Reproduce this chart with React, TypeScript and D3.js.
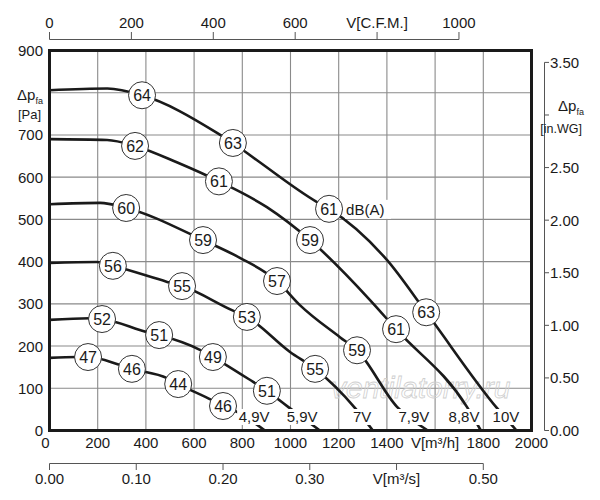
import React from 'react';
import * as d3 from 'd3';

// fan curves, flow in m³/h, static pressure in Pa
const flow49 = [0, 114, 160, 293, 342, 488, 534, 674, 720, 778, 894];
const pres49 = [172, 174, 174, 155, 146, 124, 110, 72, 58, 44, 0];
const flow59 = [0, 168, 218, 405, 455, 624, 678, 845, 902, 990, 1122];
const pres59 = [262, 266, 264, 233, 226, 191, 174, 115, 94, 56, 0];
const flow70 = [0, 197, 263, 488, 550, 757, 819, 998, 1102, 1268, 1342];
const pres70 = [397, 399, 390, 352, 342, 285, 269, 186, 146, 53, 0];
const flow79 = [0, 210, 318, 637, 790, 944, 1039, 1205, 1276, 1442, 1570];
const pres79 = [536, 539, 527, 451, 409, 354, 297, 221, 190, 56, 0];
const flow88 = [0, 239, 355, 533, 703, 902, 1081, 1330, 1438, 1732, 1790];
const pres88 = [690, 688, 674, 634, 590, 529, 451, 309, 240, 56, 0];
const flow100 = [0, 240, 384, 695, 761, 861, 1110, 1160, 1400, 1563, 1857, 1938];
const pres100 = [806, 810, 794, 705, 681, 640, 541, 525, 404, 280, 53, 0];

// sound levels dB(A) along each curve
const db49 = [47, 46, 44, 46];
const dbFlow49 = [160, 342, 534, 720];
const dbPres49 = [174, 146, 110, 58];
const db59 = [52, 51, 49, 51];
const dbFlow59 = [218, 455, 678, 902];
const dbPres59 = [264, 226, 174, 94];
const db70 = [56, 55, 53, 55];
const dbFlow70 = [263, 550, 819, 1102];
const dbPres70 = [390, 342, 269, 146];
const db79 = [60, 59, 57, 59];
const dbFlow79 = [318, 637, 944, 1276];
const dbPres79 = [527, 451, 354, 190];
const db88 = [62, 61, 59, 61];
const dbFlow88 = [355, 703, 1081, 1438];
const dbPres88 = [674, 590, 451, 240];
const db100 = [64, 63, 61, 63];
const dbFlow100 = [384, 761, 1160, 1563];
const dbPres100 = [794, 681, 525, 280];

const voltages = ['4,9V', '5,9V', '7V', '7,9V', '8,8V', '10V'];
const voltFlow = [849, 1048, 1297, 1512, 1720, 1894];
const voltPres = 32;

const flowTicks = [0, 200, 400, 600, 800, 1000, 1200, 1400, 1600, 1800, 2000];
const flowLabels = ['0', '200', '400', '600', '800', '1000', '1200', '1400', 'V[m³/h]', '1800', '2000'];
const presTicks = [0, 100, 200, 300, 400, 500, 600, 700, 800, 900];
const cfmTicks = [0, 200, 400, 600, 800, 1000];
const cfmLabels = ['0', '200', '400', '600', 'V[C.F.M.]', '1000'];
const wgTicks = [0, 0.5, 1, 1.5, 2, 2.5, 3, 3.5];
const m3sTicks = [0, 0.1, 0.2, 0.3, 0.4, 0.5];
const m3sLabels = ['0.00', '0.10', '0.20', '0.30', 'V[m³/s]', '0.50'];

const CFM = 1.699; // m³/h per cfm
const INWG = 249.09; // Pa per in.WG

const font = '"Liberation Sans", Arial, Helvetica, sans-serif';

export default function App() {
  const x = d3.scaleLinear().domain([0, 2000]).range([49.5, 531.5]);
  const y = d3.scaleLinear().domain([0, 900]).range([430.5, 50.5]);

  const line = d3
    .line<[number, number]>()
    .x((d) => x(d[0]))
    .y((d) => y(d[1]))
    .curve(d3.curveMonotoneX);

  const curves = [
    { f: flow49, p: pres49, db: db49, df: dbFlow49, dp: dbPres49 },
    { f: flow59, p: pres59, db: db59, df: dbFlow59, dp: dbPres59 },
    { f: flow70, p: pres70, db: db70, df: dbFlow70, dp: dbPres70 },
    { f: flow79, p: pres79, db: db79, df: dbFlow79, dp: dbPres79 },
    { f: flow88, p: pres88, db: db88, df: dbFlow88, dp: dbPres88 },
    { f: flow100, p: pres100, db: db100, df: dbFlow100, dp: dbPres100 },
  ];

  const ink = '#1a1a1a';
  const axisGray = '#555';
  const gridGray = '#8a8a8a';

  // position of the "dB(A)" note, next to 3rd label on top curve
  const noteX = x(dbFlow100[2]) + 17;
  const noteY = y(dbPres100[2]) + 3;

  return (
    <svg
      width={600}
      height={500}
      style={{ position: 'absolute', left: 0, top: 0, background: '#fff' }}
      fontFamily={font}
    >
      {/* grid */}
      <g stroke={gridGray} strokeWidth={1.1}>
        {flowTicks.slice(1, -1).map((t) => (
          <line key={'gx' + t} x1={x(t)} x2={x(t)} y1={y(900)} y2={y(0)} />
        ))}
        {presTicks.slice(1, -1).map((t) => (
          <line key={'gy' + t} x1={x(0)} x2={x(2000)} y1={y(t)} y2={y(t)} />
        ))}
      </g>

      {/* watermark */}
      <text
        x={331}
        y={398}
        fontSize={30}
        fontStyle="italic"
        fill="none"
        stroke="#cfcfcf"
        strokeWidth={0.8}
      >
        ventilatorry.ru
      </text>

      {/* curves */}
      {curves.map((c, i) => (
        <path
          key={'c' + i}
          d={line(c.f.map((f, j) => [f, c.p[j]] as [number, number])) || ''}
          fill="none"
          stroke={ink}
          strokeWidth={2.6}
        />
      ))}

      {/* frame */}
      <rect
        x={x(0)}
        y={y(900)}
        width={x(2000) - x(0)}
        height={y(0) - y(900)}
        fill="none"
        stroke={ink}
        strokeWidth={3}
      />

      {/* voltage labels */}
      {voltages.map((v, i) => {
        const w = v.length * 8 + 2;
        return (
          <g key={'v' + v}>
            <rect x={x(voltFlow[i]) - w / 2} y={y(voltPres) - 8} width={w} height={16} fill="#fff" />
            <text
              x={x(voltFlow[i])}
              y={y(voltPres) + 5.5}
              textAnchor="middle"
              fontSize={15}
              fill={ink}
            >
              {v}
            </text>
          </g>
        );
      })}

      {/* sound level circles */}
      {curves.map((c, i) =>
        c.db.map((d, j) => (
          <g key={'d' + i + '-' + j} transform={`translate(${x(c.df[j])},${y(c.dp[j])})`}>
            <circle r={13.5} fill="#fff" stroke="#333" strokeWidth={1} />
            <text y={5.8} textAnchor="middle" fontSize={16} fill={ink}>
              {d}
            </text>
          </g>
        ))
      )}

      {/* dB(A) note */}
      <rect x={noteX - 1} y={noteY - 12} width={46} height={19} fill="#fff" />
      <text x={noteX} y={noteY + 3} fontSize={15} fill={ink}>
        dB(A)
      </text>

      {/* left axis */}
      {presTicks.map((t) =>
        t === 800 ? null : (
          <text key={'ly' + t} x={43} y={y(t) + 5.5} textAnchor="end" fontSize={15} fill={ink}>
            {t}
          </text>
        )
      )}
      <text x={17} y={y(800) + 7} fontSize={15} fill={ink}>
        Δp
        <tspan fontSize={9} dy={4}>
          fa
        </tspan>
      </text>
      <text x={18} y={y(800) + 26} fontSize={13} fill={ink}>
        [Pa]
      </text>

      {/* bottom axis m³/h */}
      {flowTicks.map((t, i) => (
        <text
          key={'bx' + t}
          x={t === 0 ? x(t) - 4 : x(t)}
          y={448}
          textAnchor="middle"
          fontSize={15}
          fill={ink}
        >
          {flowLabels[i]}
        </text>
      ))}

      {/* top axis CFM */}
      <g stroke={axisGray} strokeWidth={1}>
        <line x1={x(0)} x2={x(1000 * CFM)} y1={39.5} y2={39.5} />
        {cfmTicks.map((t) => (
          <line key={'tt' + t} x1={x(t * CFM)} x2={x(t * CFM)} y1={39.5} y2={32} />
        ))}
      </g>
      {cfmTicks.map((t, i) => (
        <text key={'tl' + t} x={x(t * CFM)} y={27.5} textAnchor="middle" fontSize={15} fill={ink}>
          {cfmLabels[i]}
        </text>
      ))}

      {/* bottom axis m³/s */}
      <g stroke={axisGray} strokeWidth={1}>
        <line x1={x(0)} x2={x(0.5 * 3600)} y1={463.5} y2={463.5} />
        {m3sTicks.map((t) => (
          <line key={'st' + t} x1={x(t * 3600)} x2={x(t * 3600)} y1={463.5} y2={470} />
        ))}
      </g>
      {m3sTicks.map((t, i) => (
        <text key={'sl' + t} x={x(t * 3600)} y={484} textAnchor="middle" fontSize={15} fill={ink}>
          {m3sLabels[i]}
        </text>
      ))}

      {/* right axis in.WG */}
      <g stroke={axisGray} strokeWidth={1}>
        <line x1={544.5} x2={544.5} y1={y(3.5 * INWG)} y2={y(0)} />
        {wgTicks.map((t) => (
          <line key={'rt' + t} x1={544.5} x2={549} y1={y(t * INWG)} y2={y(t * INWG)} />
        ))}
      </g>
      {wgTicks.map((t) =>
        t === 3 ? null : (
          <text key={'rl' + t} x={550} y={y(t * INWG) + 5.5} fontSize={15} fill={ink}>
            {t.toFixed(2)}
          </text>
        )
      )}
      <text x={558} y={y(3 * INWG) - 4} fontSize={15} fill={ink}>
        Δp
        <tspan fontSize={9} dy={4}>
          fa
        </tspan>
      </text>
      <text x={582} y={y(3 * INWG) + 18} textAnchor="end" fontSize={12.5} fill={ink}>
        [in.WG]
      </text>
    </svg>
  );
}
